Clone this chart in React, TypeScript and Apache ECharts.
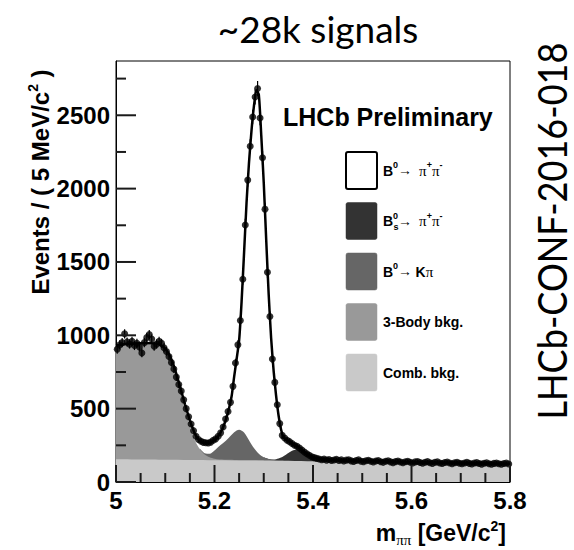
import React, { useEffect, useRef } from "react";
import * as echarts from "echarts";

// ---- binning of the data histogram (5 MeV bins from 5.0 to 5.8 GeV) ----
const BIN_START = 5.0;
const BIN_WIDTH = 0.005;

// Events per bin
const dataCounts = [
  905, 935, 950, 1010, 955, 940, 960, 930, 945, 920,
  880, 950, 985, 1005, 975, 925, 940, 960, 945, 915,
  890, 855, 815, 770, 715, 665, 620, 560, 500, 445,
  395, 350, 312, 290, 278, 270, 268, 266, 272, 285,
  294, 312, 335, 375, 430, 480, 543, 652, 811, 935,
  1101, 1382, 1752, 2058, 2289, 2488, 2625, 2682, 2482, 2210,
  1860, 1430, 1128, 838, 679, 527, 398, 318, 300, 285,
  275, 262, 250, 244, 232, 218, 205, 192, 182, 172,
  166, 161, 157, 152, 156, 149, 153, 146, 150, 155,
  147, 151, 143, 149, 152, 144, 140, 147, 151, 142,
  139, 145, 148, 141, 136, 143, 146, 138, 134, 141,
  145, 137, 132, 139, 143, 136, 131, 138, 142, 135,
  130, 137, 140, 133, 128, 135, 139, 131, 127, 134,
  137, 130, 126, 133, 136, 129, 125, 131, 135, 128,
  124, 130, 134, 127, 123, 129, 132, 126, 122, 128,
  131, 125, 121, 127, 130, 124, 121, 126, 129, 123,
];

// Total fit curve
const fitMass = [
  5.0, 5.02, 5.04, 5.06, 5.08, 5.09, 5.1, 5.11, 5.12, 5.13, 5.14, 5.15,
  5.155, 5.16, 5.165, 5.17, 5.175, 5.18, 5.185, 5.19, 5.195, 5.2,
  5.205, 5.21, 5.215, 5.22, 5.225, 5.23, 5.235, 5.24, 5.245, 5.25,
  5.255, 5.26, 5.265, 5.27, 5.275, 5.28, 5.285, 5.29, 5.295, 5.3,
  5.305, 5.31, 5.315, 5.32, 5.325, 5.33, 5.335, 5.34, 5.345, 5.35,
  5.355, 5.36, 5.365, 5.37, 5.375, 5.38, 5.385, 5.39, 5.395,
  5.4, 5.41, 5.42, 5.44, 5.46, 5.5, 5.55, 5.6, 5.65, 5.7, 5.75, 5.8,
];
const fitTotal = [
  930, 940, 945, 948, 945, 935, 910, 855, 765, 650, 530, 420,
  372, 330, 300, 282, 272, 266, 265, 268, 275, 287,
  303, 325, 355, 395, 445, 510, 590, 720, 840, 965,
  1230, 1560, 1900, 2175, 2390, 2560, 2670, 2640, 2360, 2040,
  1650, 1280, 980, 760, 590, 455, 360, 305, 290, 280,
  270, 258, 248, 238, 225, 212, 199, 187, 176,
  168, 160, 155, 150, 147, 143, 139, 135, 132, 129, 126, 123,
];

// Cumulative (stacked) component levels
const combMass = [5.0, 5.1, 5.2, 5.3, 5.4, 5.5, 5.6, 5.7, 5.8];
const combLevel = [155, 152, 149, 146, 141, 135, 130, 125, 120];

const threeBodyMass = [
  5.0, 5.01, 5.02, 5.03, 5.04, 5.05, 5.06, 5.07, 5.08, 5.09, 5.1,
  5.11, 5.12, 5.13, 5.14, 5.15, 5.16, 5.17, 5.18, 5.19, 5.2,
  5.21, 5.22, 5.23, 5.24, 5.25, 5.26, 5.27, 5.28, 5.29, 5.3,
];
const threeBodyLevel = [
  925, 932, 936, 939, 941, 942, 943, 942, 938, 928, 900,
  840, 745, 625, 500, 385, 285, 225, 188, 168, 158,
  153, 152, 151, 150, 149, 149, 148, 148, 147, 146,
];

const kpiMass = [
  5.17, 5.18, 5.19, 5.2, 5.21, 5.22, 5.23, 5.24, 5.25, 5.26,
  5.27, 5.28, 5.29, 5.3, 5.31, 5.32, 5.33, 5.34,
];
const kpiLevel = [
  228, 196, 192, 215, 245, 272, 305, 340, 357, 338,
  285, 232, 192, 168, 156, 150, 147, 146,
];

const bsMass = [
  5.3, 5.31, 5.32, 5.33, 5.34, 5.35, 5.36, 5.37, 5.38, 5.39,
  5.4, 5.41, 5.42, 5.43, 5.44,
];
const bsLevel = [
  168, 157, 153, 160, 176, 198, 217, 224, 212, 186,
  160, 147, 142, 141, 140,
];

// Axis ticks
const X_MIN = 5.0;
const X_MAX = 5.8;
const Y_MAX = 2870;
const xMajorTicks = [5.0, 5.2, 5.4, 5.6, 5.8];
const xMinorTicks = [
  5.05, 5.1, 5.15, 5.25, 5.3, 5.35, 5.45, 5.5, 5.55, 5.65, 5.7, 5.75,
];
const yMajorTicks = [0, 500, 1000, 1500, 2000, 2500];
const yMinorTicks = [250, 750, 1250, 1750, 2250, 2750];

const COL_COMB = "#c9c9c9";
const COL_3BODY = "#999999";
const COL_KPI = "#666666";
const COL_BS = "#333333";

const legendRows = [
  { kind: "b0pipi", fill: "#ffffff", border: true },
  { kind: "bspipi", fill: COL_BS, border: false },
  { kind: "b0kpi", fill: COL_KPI, border: false },
  { kind: "3body", fill: COL_3BODY, border: false },
  { kind: "comb", fill: COL_COMB, border: false },
];

const SANS = "Liberation Sans, Arial, Helvetica, sans-serif";
const SERIF = "Liberation Serif, Times New Roman, serif";

export default function App() {
  const ref = useRef<HTMLDivElement>(null);

  useEffect(() => {
    if (!ref.current) return;
    const chart = echarts.init(ref.current, undefined, { renderer: "svg" });

    const binCenters = dataCounts.map((_, i) => BIN_START + BIN_WIDTH * (i + 0.5));
    const points = dataCounts.map((v, i) => [binCenters[i], v]);
    const errs = dataCounts.map((v, i) => [binCenters[i], v, Math.sqrt(v)]);

    const pair = (xs: number[], ys: number[]) => xs.map((x, i) => [x, ys[i]]);

    const areaSeries = (name: string, xs: number[], ys: number[], color: string, z: number) => ({
      name,
      type: "line",
      data: pair(xs, ys),
      symbol: "none",
      showSymbol: false,
      smooth: 0.3,
      lineStyle: { width: 0, color },
      itemStyle: { color },
      areaStyle: { color, opacity: 1 },
      silent: true,
      z,
    });

    const legendTextRich = {
      b: { fontFamily: SANS, fontWeight: "bold", fontSize: 14, lineHeight: 20, fill: "#000", color: "#000" },
      sup: { fontFamily: SANS, fontWeight: "bold", fontSize: 9, lineHeight: 11, verticalAlign: "top", color: "#000", fill: "#000" },
      ar: { fontFamily: SERIF, fontSize: 14, lineHeight: 20, color: "#000", fill: "#000" },
      pi: { fontFamily: SERIF, fontSize: 15, lineHeight: 20, color: "#000", fill: "#000" },
    };

    const legendX = 346;
    const legendTop = 152;
    const legendStep = 50.5;
    const boxW = 31;
    const boxH = 37;
    const textX = 383;

    const legendLabels: Record<string, string> = {
      b0pipi: "{b|B}{sup|0}{ar|\u2192  }{pi|\u03c0}{sup|+}{pi|\u03c0}{sup|-}",
      bspipi: "{b|B}{sup|0}{ar|\u2192  }{pi|\u03c0}{sup|+}{pi|\u03c0}{sup|-}",
      b0kpi: "{b|B}{sup|0}{ar|\u2192 }{b|K}{pi|\u03c0}",
      "3body": "{b|3-Body bkg.}",
      comb: "{b|Comb. bkg.}",
    };

    const graphics: any[] = [];
    legendRows.forEach((row, i) => {
      const y = legendTop + i * legendStep;
      graphics.push({
        type: "rect",
        shape: { x: legendX, y, width: boxW, height: boxH, r: 2 },
        style: {
          fill: row.fill,
          stroke: row.border ? "#000" : row.fill,
          lineWidth: row.border ? 2 : 0.5,
        },
        silent: true,
        z: 100,
      });
      graphics.push({
        type: "text",
        x: textX,
        y: y + boxH / 2,
        style: {
          text: legendLabels[row.kind],
          rich: legendTextRich,
          align: "left",
          verticalAlign: "middle",
          textAlign: "left",
          textVerticalAlign: "middle",
        },
        silent: true,
        z: 100,
      });
      if (row.kind === "bspipi") {
        graphics.push({
          type: "text",
          x: textX + 10.4,
          y: y + boxH / 2 + 6,
          style: {
            text: "s",
            fontFamily: SANS,
            fontWeight: "bold",
            fontSize: 9,
            fill: "#000",
            align: "left",
            verticalAlign: "middle",
            textAlign: "left",
            textVerticalAlign: "middle",
          },
          silent: true,
          z: 100,
        });
      }
    });

    // LHCb Preliminary
    graphics.push({
      type: "text",
      x: 283,
      y: 117,
      style: {
        text: "LHCb Preliminary",
        fontFamily: SANS,
        fontWeight: "bold",
        fontSize: 25,
        fill: "#000",
        align: "left",
        verticalAlign: "middle",
        textAlign: "left",
        textVerticalAlign: "middle",
      },
      silent: true,
      z: 100,
    });

    // Title
    graphics.push({
      type: "text",
      x: 318,
      y: 28,
      style: {
        text: "~28k signals",
        fontFamily: "Lato, Carlito, Calibri, sans-serif",
        fontSize: 37,
        fill: "#000",
        align: "center",
        verticalAlign: "middle",
        textAlign: "center",
        textVerticalAlign: "middle",
      },
      silent: true,
      z: 100,
    });

    // Side note
    graphics.push({
      type: "text",
      x: 551,
      y: 231,
      rotation: Math.PI / 2,
      scaleX: 0.88,
      style: {
        text: "LHCb-CONF-2016-018",
        fontFamily: "Lato, Carlito, Calibri, sans-serif",
        fontSize: 41,
        fill: "#000",
        align: "center",
        verticalAlign: "middle",
        textAlign: "center",
        textVerticalAlign: "middle",
      },
      silent: true,
      z: 100,
    });

    // Y axis title
    graphics.push({
      type: "text",
      x: 40,
      y: 182,
      rotation: Math.PI / 2,
      style: {
        text: "{a|Events / ( 5 MeV/c}{sup|2}{a| )}",
        rich: {
          a: { fontFamily: SANS, fontWeight: "bold", fontSize: 24, lineHeight: 28, color: "#000", fill: "#000" },
          sup: { fontFamily: SANS, fontWeight: "bold", fontSize: 14, lineHeight: 16, verticalAlign: "top", color: "#000", fill: "#000" },
        },
        align: "center",
        verticalAlign: "middle",
        textAlign: "center",
        textVerticalAlign: "middle",
      },
      silent: true,
      z: 100,
    });

    // X axis title
    graphics.push({
      type: "text",
      x: 506,
      y: 533,
      style: {
        text: "{a|m}{sub|\u03c0\u03c0}{a| [GeV/c}{sup|2}{a|]}",
        rich: {
          a: { fontFamily: SANS, fontWeight: "bold", fontSize: 23, lineHeight: 28, color: "#000", fill: "#000" },
          sup: { fontFamily: SANS, fontWeight: "bold", fontSize: 14, lineHeight: 16, verticalAlign: "top", color: "#000", fill: "#000" },
          sub: { fontFamily: SERIF, fontSize: 15, lineHeight: 16, verticalAlign: "bottom", color: "#000", fill: "#000" },
        },
        align: "right",
        verticalAlign: "middle",
        textAlign: "right",
        textVerticalAlign: "middle",
      },
      silent: true,
      z: 100,
    });

    const axisLabelStyle = {
      fontFamily: SANS,
      fontWeight: "bold" as const,
      fontSize: 24,
      color: "#000",
    };

    const option: any = {
      animation: false,
      backgroundColor: "#ffffff",
      grid: {
        left: 116,
        top: 61,
        width: 394,
        height: 421,
        show: true,
        borderColor: "#000",
        borderWidth: 1,
        backgroundColor: "transparent",
        containLabel: false,
      },
      xAxis: {
        type: "value",
        min: X_MIN,
        max: X_MAX,
        interval: 0.2,
        axisLine: { show: true, onZero: false, lineStyle: { color: "#000", width: 1 } },
        axisTick: { show: false },
        splitLine: { show: false },
        axisLabel: {
          ...axisLabelStyle,
          margin: 6,
          formatter: (v: number) => {
            const r = Math.round(v * 10) / 10;
            return r === 5 ? "5" : r.toFixed(1);
          },
        },
      },
      yAxis: {
        type: "value",
        min: 0,
        max: Y_MAX,
        interval: 500,
        axisLine: { show: true, onZero: false, lineStyle: { color: "#000", width: 1 } },
        axisTick: { show: false },
        splitLine: { show: false },
        axisLabel: {
          ...axisLabelStyle,
          margin: 6,
          formatter: (v: number) => (Math.abs(v % 500) < 1e-6 ? String(Math.round(v)) : ""),
        },
      },
      series: [
        areaSeries("Bs", bsMass, bsLevel, COL_BS, 1),
        areaSeries("Kpi", kpiMass, kpiLevel, COL_KPI, 2),
        areaSeries("3body", threeBodyMass, threeBodyLevel, COL_3BODY, 3),
        areaSeries("comb", combMass, combLevel, COL_COMB, 4),
        {
          name: "fit",
          type: "line",
          data: pair(fitMass, fitTotal),
          symbol: "none",
          showSymbol: false,
          smooth: 0.2,
          lineStyle: { color: "#000", width: 2.5 },
          itemStyle: { color: "#000" },
          silent: true,
          z: 5,
        },
        {
          name: "errors",
          type: "custom",
          data: errs,
          encode: { x: 0, y: 1 },
          silent: true,
          z: 6,
          renderItem: (_params: any, api: any) => {
            const x = api.value(0);
            const y = api.value(1);
            const e = api.value(2);
            const lo = api.coord([x, y - e]);
            const hi = api.coord([x, y + e]);
            return {
              type: "line",
              shape: { x1: lo[0], y1: lo[1], x2: hi[0], y2: hi[1] },
              style: { stroke: "#000", lineWidth: 1.2 },
            };
          },
        },
        {
          name: "data",
          type: "scatter",
          data: points,
          symbol: "circle",
          symbolSize: 7,
          itemStyle: { color: "#000" },
          silent: true,
          z: 7,
        },
      ],
    };

    chart.setOption(option);

    // Tick marks as thin rects, positioned through the chart's own axis scales
    const TW = 2;
    const tickRects: any[] = [];
    const addX = (v: number, len: number) => {
      const p = chart.convertToPixel({ xAxisIndex: 0, yAxisIndex: 0 }, [v, 0]) as number[];
      tickRects.push({
        type: "rect",
        shape: { x: p[0] - TW / 2, y: p[1] - len, width: TW, height: len },
        style: { fill: "#1a1a1a" },
        silent: true,
        z: 60,
      });
    };
    const addY = (v: number, len: number) => {
      const p = chart.convertToPixel({ xAxisIndex: 0, yAxisIndex: 0 }, [X_MIN, v]) as number[];
      tickRects.push({
        type: "rect",
        shape: { x: p[0], y: p[1] - TW / 2, width: len, height: TW },
        style: { fill: "#1a1a1a" },
        silent: true,
        z: 60,
      });
    };
    xMajorTicks.forEach((v) => addX(v, 17));
    xMinorTicks.forEach((v) => addX(v, 9));
    yMajorTicks.forEach((v) => addY(v, 20));
    yMinorTicks.forEach((v) => addY(v, 10));

    chart.setOption({ graphic: { elements: [...graphics, ...tickRects] } });

    return () => {
      chart.dispose();
    };
  }, []);

  return (
    <div
      ref={ref}
      style={{ position: "absolute", left: 0, top: 0, width: 574, height: 550 }}
    />
  );
}
